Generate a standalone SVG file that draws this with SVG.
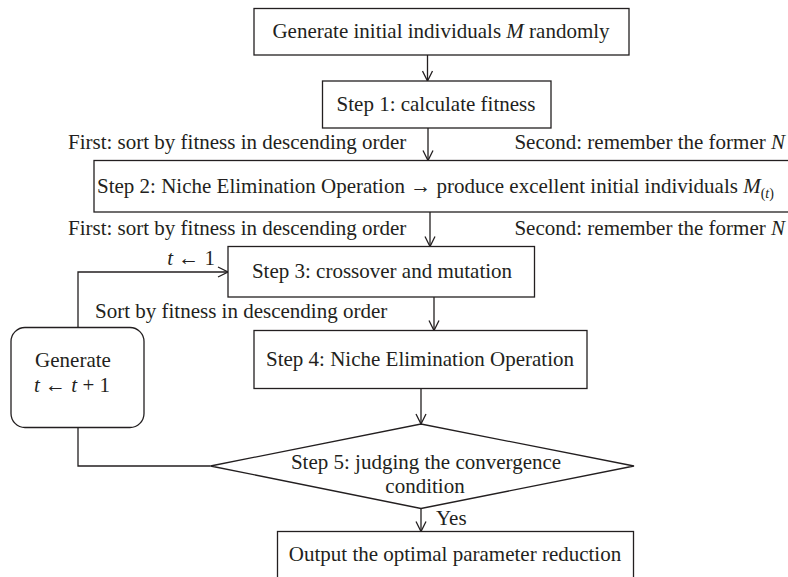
<svg xmlns="http://www.w3.org/2000/svg" width="788" height="577" viewBox="0 0 788 577">
  <style>
    .box { fill: #ffffff; stroke: #231f20; stroke-width: 1.3; }
    .edge { fill: none; stroke: #231f20; stroke-width: 1.3; }
    text { font-family: "Liberation Serif", "Times New Roman", serif; font-size: 21px; fill: #231f20; }
    .c { text-anchor: middle; }
    .e { text-anchor: end; }
    .i { font-style: italic; }
  </style>
  <defs>
    <marker id="arrow" viewBox="0 0 12 12" refX="11" refY="6" markerWidth="12" markerHeight="12" markerUnits="userSpaceOnUse" orient="auto">
      <path d="M1,1 L11,6 L1,11" fill="none" stroke="#231f20" stroke-width="1.3"/>
    </marker>
  </defs>
  <rect width="788" height="577" fill="#ffffff"/>

  <!-- connectors -->
  <g id="connectors">
    <line class="edge" x1="427.5" y1="55" x2="427.5" y2="81" marker-end="url(#arrow)"/>
    <line class="edge" x1="428" y1="128" x2="428" y2="160.5" marker-end="url(#arrow)"/>
    <line class="edge" x1="430" y1="212" x2="430" y2="246.5" marker-end="url(#arrow)"/>
    <line class="edge" x1="434" y1="297" x2="434" y2="330.5" marker-end="url(#arrow)"/>
    <line class="edge" x1="421" y1="388.5" x2="421" y2="424" marker-end="url(#arrow)"/>
    <line class="edge" x1="421" y1="508.5" x2="421" y2="531.5" marker-end="url(#arrow)"/>
    <!-- loop back: condition not met -->
    <polyline class="edge" points="210.5,466 78,466 78,427.5"/>
    <polyline class="edge" points="78,327.5 78,272 228,272" marker-end="url(#arrow)"/>
  </g>

  <!-- edge labels -->
  <g id="labels">
    <text x="68" y="149">First: sort by fitness in descending order</text>
    <text class="e" x="785" y="149">Second: remember the former <tspan class="i">N</tspan></text>
    <text x="68" y="235">First: sort by fitness in descending order</text>
    <text class="e" x="785" y="235">Second: remember the former <tspan class="i">N</tspan></text>
    <text class="e" x="215" y="265"><tspan class="i">t</tspan> ← 1</text>
    <text x="95" y="318">Sort by fitness in descending order</text>
    <text x="436" y="525">Yes</text>
  </g>

  <g id="init">
    <rect class="box" x="254" y="8.5" width="375" height="46.5"/>
    <text class="c" x="441" y="38">Generate initial individuals <tspan class="i">M</tspan> randomly</text>
  </g>

  <g id="step1">
    <rect class="box" x="322.5" y="81" width="228.5" height="47"/>
    <text class="c" x="436" y="111">Step 1: calculate fitness</text>
  </g>

  <g id="step2">
    <rect class="box" x="94" y="160.5" width="720" height="51.5"/>
    <text x="97" y="193" font-size="21.3">Step 2: Niche Elimination Operation → produce excellent initial individuals <tspan class="i">M</tspan><tspan font-size="14" dy="5">(<tspan class="i">t</tspan>)</tspan></text>
  </g>

  <g id="step3">
    <rect class="box" x="228" y="246.5" width="306.5" height="50.5"/>
    <text class="c" x="382" y="278">Step 3: crossover and mutation</text>
  </g>

  <g id="step4">
    <rect class="box" x="254" y="330.5" width="333" height="58"/>
    <text class="c" x="420" y="366">Step 4: Niche Elimination Operation</text>
  </g>

  <g id="generate">
    <rect class="box" x="11" y="327.5" width="133" height="100" rx="14" ry="14"/>
    <text class="c" x="73" y="367">Generate</text>
    <text class="c" x="72" y="392"><tspan class="i">t</tspan> ← <tspan class="i">t</tspan> + 1</text>
  </g>

  <g id="step5">
    <polygon class="box" points="210.5,466 421,424 634,466 421,508.5"/>
    <text class="c" x="426" y="469">Step 5: judging the convergence</text>
    <text class="c" x="425" y="493">condition</text>
  </g>

  <g id="output">
    <rect class="box" x="277.5" y="531.5" width="356" height="60"/>
    <text class="c" x="455" y="561">Output the optimal parameter reduction</text>
  </g>
</svg>
